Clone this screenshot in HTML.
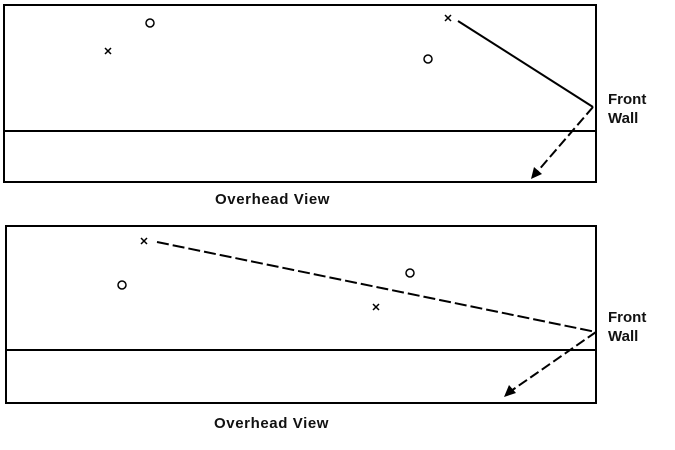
<!DOCTYPE html>
<html><head><style>
html,body{margin:0;padding:0;background:#fff;}
svg{display:block;}
text{font-family:"Liberation Sans",Arial,sans-serif;font-size:15px;font-weight:bold;fill:#111;}
.ov{letter-spacing:0.6px;}
</style></head><body>
<svg width="675" height="450" viewBox="0 0 675 450" xmlns="http://www.w3.org/2000/svg">
<g stroke="#000" fill="none" stroke-width="2">
  <rect x="4" y="5" width="592" height="177"/>
  <line x1="4" y1="131" x2="596" y2="131"/>
  <rect x="6" y="226" width="590" height="177"/>
  <line x1="6" y1="350" x2="596" y2="350"/>
</g>
<g stroke="#000" fill="none" stroke-width="1.5">
  <circle cx="150" cy="23" r="4"/>
  <circle cx="428" cy="59" r="4"/>
  <circle cx="122" cy="285" r="4"/>
  <circle cx="410" cy="273" r="4"/>
  <path d="M105,48 l6,6 M111,48 l-6,6"/>
  <path d="M445,15 l6,6 M451,15 l-6,6"/>
  <path d="M141,238 l6,6 M147,238 l-6,6"/>
  <path d="M373,304 l6,6 M379,304 l-6,6"/>
</g>
<g stroke="#000" fill="none" stroke-width="2">
  <line x1="458" y1="21" x2="593" y2="107"/>
  <line x1="593" y1="107" x2="537" y2="172" stroke-dasharray="10,4"/>
  <line x1="157" y1="242" x2="596" y2="332" stroke-dasharray="12,4"/>
  <line x1="596" y1="332" x2="511" y2="391" stroke-dasharray="10,4"/>
</g>
<polygon points="531,179 534,167 542,174" fill="#000"/>
<polygon points="504,397 509,385 516,393" fill="#000"/>
<text x="608" y="104">Front</text>
<text x="608" y="123">Wall</text>
<text x="608" y="322">Front</text>
<text x="608" y="341">Wall</text>
<text class="ov" x="215" y="204">Overhead View</text>
<text class="ov" x="214" y="428">Overhead View</text>
</svg>
</body></html>
